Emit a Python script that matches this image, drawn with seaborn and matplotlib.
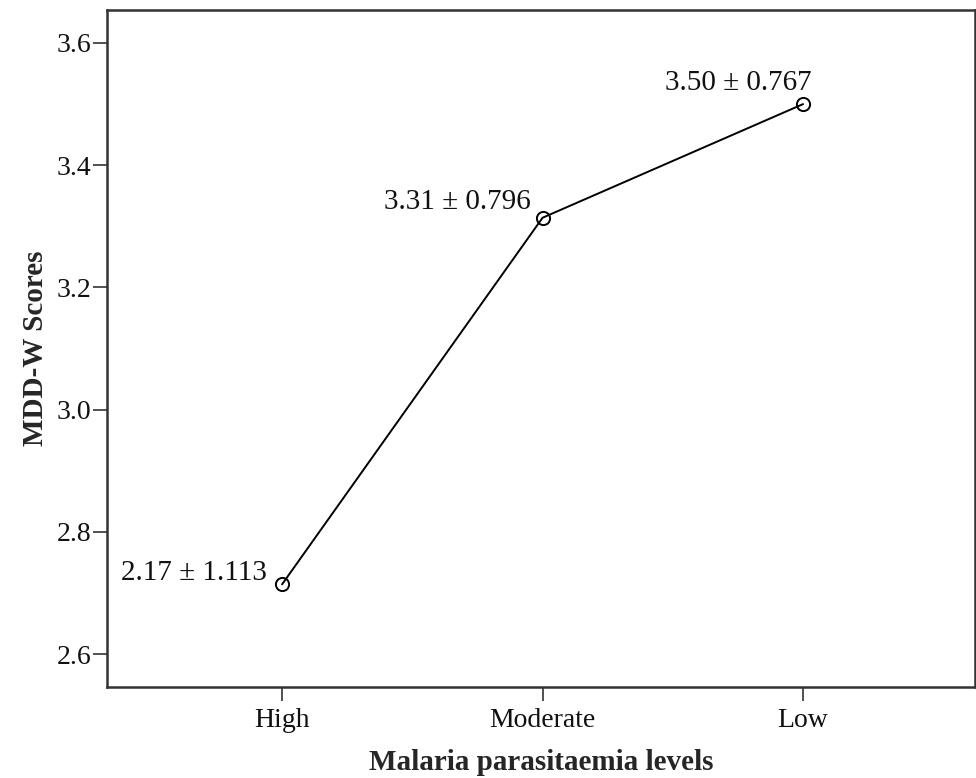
import matplotlib
matplotlib.use("Agg")
import matplotlib.pyplot as plt
import seaborn as sns
import pandas as pd

levels = ["High", "Moderate", "Low"]
means = [2.714, 3.314, 3.500]
labels = ["2.17 ± 1.113", "3.31 ± 0.796", "3.50 ± 0.767"]
yticks = [2.6, 2.8, 3.0, 3.2, 3.4, 3.6]

sns.set_style("white")
plt.rcParams["font.family"] = ["Liberation Serif", "DejaVu Serif"]

df = pd.DataFrame({"level": levels, "mean": means})

fig = plt.figure(figsize=(9.76, 7.78), dpi=100)
ax = fig.add_axes([107 / 976, 1 - 687 / 778, (975 - 107) / 976, (687 - 10) / 778])

sns.lineplot(data=df, x="level", y="mean", sort=False, ax=ax, color="black",
             linewidth=1.4, marker="o", markersize=9.5,
             markerfacecolor="none", markeredgecolor="black", markeredgewidth=1.4)

ax.set_xlim(-0.672, 2.66)
ax.set_ylim(2.546, 3.654)
ax.set_yticks(yticks)
ax.set_yticklabels([f"{v:.1f}" for v in yticks])
ax.tick_params(axis="both", which="both", direction="out", length=10, width=1.2,
               color="#333333", labelsize=20, left=True, bottom=True, pad=1.5,
               labelcolor="#111111")
ax.tick_params(axis="x", pad=5)
for s in ax.spines.values():
    s.set_visible(True)
    s.set_color("#333333")
    s.set_linewidth(1.8)

ax.set_xlabel("Malaria parasitaemia levels", fontsize=21, fontweight="bold", labelpad=12)
ax.set_ylabel("MDD-W Scores", fontsize=21, fontweight="bold", labelpad=5)

offsets = [(-15, 11), (-12, 16), (9, 21)]
for i, (lab, off) in enumerate(zip(labels, offsets)):
    ax.annotate(lab, xy=(i, means[i]), xytext=off, textcoords="offset pixels",
                ha="right", va="center", fontsize=21, color="#111111")

fig.savefig("out.png", dpi=100)
